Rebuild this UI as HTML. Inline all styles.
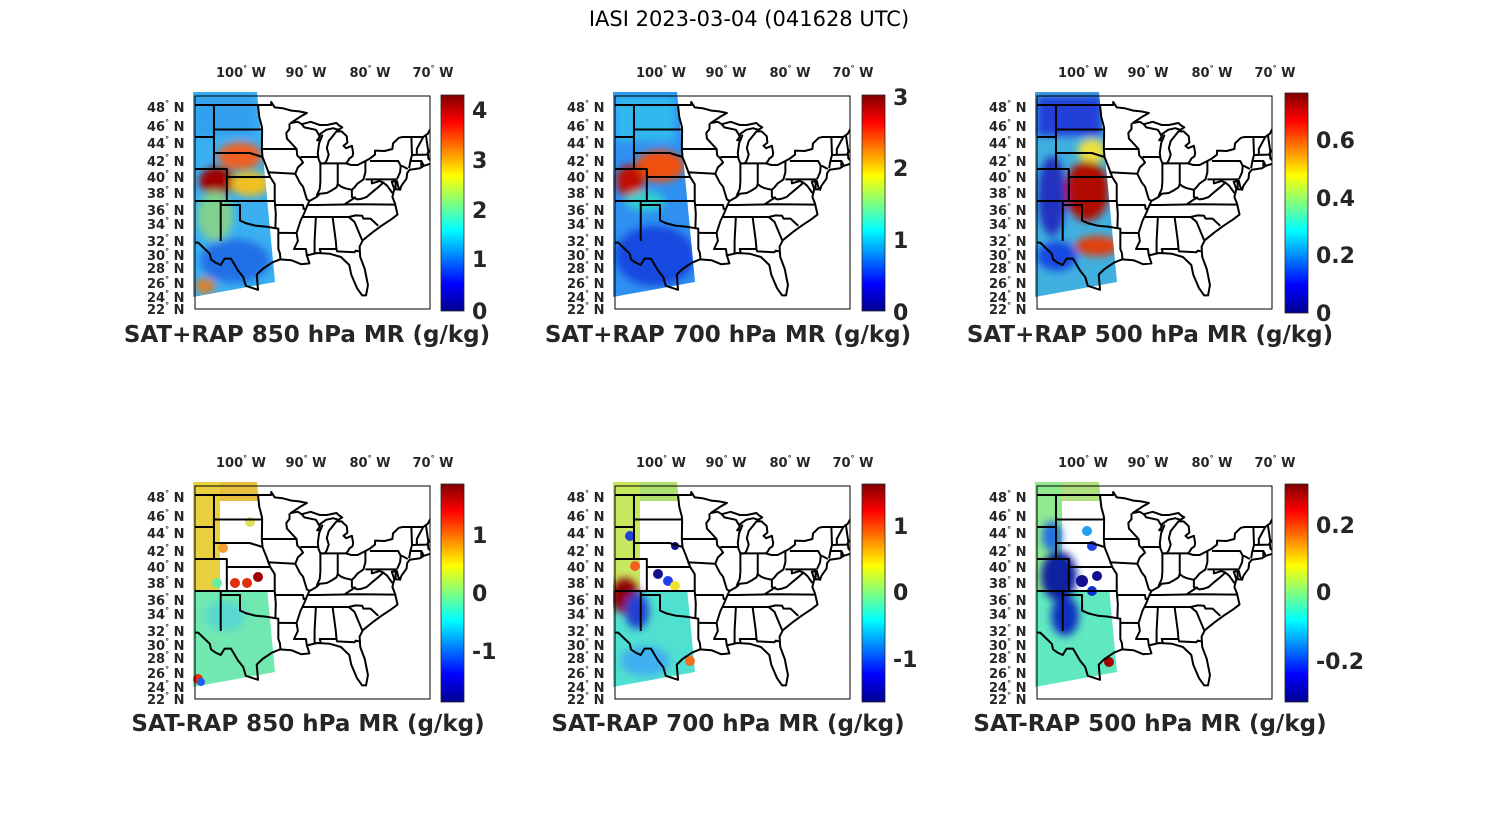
<!DOCTYPE html>
<html><head><meta charset="utf-8"><style>
html,body{margin:0;padding:0;background:#fff;}
svg{display:block;}
text{font-family:"DejaVu Sans","Liberation Sans",sans-serif;fill:#262626;}
.ll{font-size:13px;font-weight:bold;}
.cb{font-size:22px;font-weight:bold;}
.tt{font-size:23px;font-weight:bold;}
</style></head><body>
<svg width="1500" height="825" viewBox="0 0 1500 825" xmlns="http://www.w3.org/2000/svg">
<defs>
<linearGradient id="jet" x1="0" y1="1" x2="0" y2="0">
<stop offset="0" stop-color="#00008f"/><stop offset="0.125" stop-color="#0000ff"/>
<stop offset="0.375" stop-color="#00ffff"/><stop offset="0.625" stop-color="#ffff00"/>
<stop offset="0.875" stop-color="#ff0000"/><stop offset="1" stop-color="#800000"/>
</linearGradient>
<clipPath id="fc"><rect x="0" y="0" width="235" height="213"/></clipPath>
<clipPath id="sw"><polygon points="-2,-4 62,-4 80,186 -2,201"/></clipPath>
<filter id="bl" x="-20%" y="-20%" width="140%" height="140%"><feGaussianBlur stdDeviation="4"/></filter>
<g id="map" fill="none" stroke="#000" stroke-width="2" stroke-linejoin="round">
<g transform="matrix(6.43 0 0 -8 688 401)">
<polyline vector-effect="non-scaling-stroke" points="-108.2,31.8 -106.5,31.8 -104.7,30.4 -104.5,29.7 -103.8,29.3 -103,29 -102.4,29.8 -101.4,29.8 -100.3,28.3 -99.5,27.5 -99.1,26.4 -97.2,25.9 -97.4,27.8 -96.5,28.5 -95,29.3 -93.8,29.7 -92,29.6 -90.5,29.1 -89.2,29.2 -89.6,30.2 -88,30.5 -86,30.4 -84.3,30 -83,29 -82.7,27.8 -81.8,26.1 -81,25.2 -80.4,25.2 -80.1,26.5 -80.6,28.5 -81.3,30 -81.4,31.3 -80.9,32.1 -79.2,33.2 -78,33.9 -76.5,34.7 -75.5,35.3 -75.9,36.7 -76.3,37.5 -76,38.5 -76.4,39.4 -75.6,39.5 -75.4,38.8 -75.1,38.4 -74.9,38.9 -74.1,39.8 -74,40.5 -73.6,40.9 -72,41.1 -71.4,41.4 -70.6,41.6 -70,41.8 -70.7,42.3 -70.8,43 -70.2,43.6 -69,44 -67,44.8"/>
<polyline vector-effect="non-scaling-stroke" points="-108,49 -95.15,49 -95.15,49.38 -94.6,48.7 -93.4,48.6 -92,48.3 -90.8,48.2 -89.6,48 -90.5,47.6 -92.1,46.75 -91,46.9 -90.4,46.6 -89,46.9 -87.6,46.5 -86.5,46.5 -85,46.75 -84.6,46.45 -84.1,46.2 -84.7,45.9 -85.5,46.1 -86.6,45.9 -87.5,45.4 -87.7,44.9 -88,44.6 -87.5,44.6 -87.2,45.2 -87.7,44.2 -87.9,43 -87.8,42.3 -87.5,41.7 -86.8,41.7 -86.5,42.1 -86.2,42.8 -86.5,43.6 -86.2,44.5 -85.6,45.1 -85,45.7 -84.2,45.7 -83.4,45.1 -83.3,44.3 -83.9,43.9 -83.5,43.6 -82.6,43.9 -82.4,43 -82.5,42.6 -83,42.3 -83.2,42 -83.5,41.7 -82.7,41.5 -81.7,41.5 -80.5,42 -79.8,42.3 -79,42.8 -79,43.3 -77.5,43.25 -76.3,43.5 -76.2,44.2 -75.3,44.9 -74.7,45 -71.5,45 -71,45.3 -70.8,45.4 -70.2,46.3 -70,47 -69.2,47.45 -68.2,47.35"/>
<polyline vector-effect="non-scaling-stroke" points="-104.05,45.94 -96.56,45.94"/>
<polyline vector-effect="non-scaling-stroke" points="-104.05,43 -98.5,43 -96.5,42.5"/>
<polyline vector-effect="non-scaling-stroke" points="-104.05,49 -104.05,41"/>
<polyline vector-effect="non-scaling-stroke" points="-108,45 -104.05,45"/>
<polyline vector-effect="non-scaling-stroke" points="-108,41 -102.05,41 -102.05,37"/>
<polyline vector-effect="non-scaling-stroke" points="-102.05,40 -95.3,40"/>
<polyline vector-effect="non-scaling-stroke" points="-108,37 -94.6,37"/>
<polyline vector-effect="non-scaling-stroke" points="-103,37 -103,32"/>
<polyline vector-effect="non-scaling-stroke" points="-103,36.5 -100,36.5 -100,34.56 -99,34.2 -97.5,33.9 -96,33.8 -94.5,33.6 -94.04,33.55 -94.04,31 -93.8,30.5 -93.7,29.7"/>
<polyline vector-effect="non-scaling-stroke" points="-94.04,33.02 -91.2,33"/>
<polyline vector-effect="non-scaling-stroke" points="-94.6,37 -94.43,35.4 -94.5,33.6"/>
<polyline vector-effect="non-scaling-stroke" points="-94.6,37 -94.6,39.1 -95.3,40 -95.9,41.3 -96.5,42.5 -96.6,43.5 -96.56,45.94 -96.6,46.3 -97,47.5 -97.2,49"/>
<polyline vector-effect="non-scaling-stroke" points="-96.6,43.5 -91.2,43.5"/>
<polyline vector-effect="non-scaling-stroke" points="-95.75,40.6 -91.4,40.4"/>
<polyline vector-effect="non-scaling-stroke" points="-92.3,46.7 -92.3,46 -92.8,45.5 -92.7,44.8 -91.2,43.5 -91.1,42.7 -90.6,42.3 -90.2,41.8 -91,41.2 -91.4,40.4 -90.7,39.3 -90.2,38.8 -89.6,37.2 -89.2,37 -89.5,36.5 -90,35.5 -90.6,34.5 -91.2,33 -91,32 -91.6,31 -89.75,31 -89.6,30.2"/>
<polyline vector-effect="non-scaling-stroke" points="-94.6,36.5 -90.2,36.5 -90.1,36 -89.7,36"/>
<polyline vector-effect="non-scaling-stroke" points="-90.6,42.5 -87.8,42.5"/>
<polyline vector-effect="non-scaling-stroke" points="-90.4,46.6 -90,46.2 -88.2,45.9 -87.6,45.1"/>
<polyline vector-effect="non-scaling-stroke" points="-87.5,41.7 -87.5,39.4 -87.6,38.5 -88,37.8 -88.1,37.5"/>
<polyline vector-effect="non-scaling-stroke" points="-89.2,37 -88.1,37.5 -87.6,37.9 -86.5,38 -85.8,38.3 -85,38.7 -84.8,39.1 -84.3,38.8 -83.7,38.6 -82.6,38.4 -82.2,38.7 -81.7,39.2 -80.8,39.7 -80.5,40.6 -80.5,42"/>
<polyline vector-effect="non-scaling-stroke" points="-84.8,41.7 -84.8,39.1"/>
<polyline vector-effect="non-scaling-stroke" points="-87.5,41.7 -83.5,41.7"/>
<polyline vector-effect="non-scaling-stroke" points="-80.5,39.7 -75.8,39.7 -75.8,38.45 -75.1,38.45"/>
<polyline vector-effect="non-scaling-stroke" points="-79.5,39.7 -79.5,39.2 -78.3,39.5 -77.7,39.3 -78.4,38.8 -79,38.4 -79.6,38 -80.3,37.5 -81,37.3 -81.7,37.2 -82.6,37.5 -82.6,38.4"/>
<polyline vector-effect="non-scaling-stroke" points="-77.7,39.3 -77.1,38.9 -76.3,38"/>
<polyline vector-effect="non-scaling-stroke" points="-89.5,36.5 -88,36.5 -81.7,36.6 -75.9,36.55"/>
<polyline vector-effect="non-scaling-stroke" points="-83.7,36.6 -82,37.5"/>
<polyline vector-effect="non-scaling-stroke" points="-90.3,35 -84.3,35 -83.1,35 -82,35.2 -81,35.15 -80.8,34.8 -79.7,34.8 -78.5,33.9"/>
<polyline vector-effect="non-scaling-stroke" points="-88.2,35 -88.4,32 -88.4,30.4"/>
<polyline vector-effect="non-scaling-stroke" points="-85.6,35 -85.1,32 -85,31"/>
<polyline vector-effect="non-scaling-stroke" points="-87.4,30.4 -87.6,31 -85,31 -84.9,30.7 -82.2,30.6 -82,30.8 -81.5,30.7"/>
<polyline vector-effect="non-scaling-stroke" points="-83.1,35 -82.2,34.4 -81,32.1"/>
<polyline vector-effect="non-scaling-stroke" points="-79.8,42 -75.4,42 -75,41.4 -74.7,41.35 -73.9,41"/>
<polyline vector-effect="non-scaling-stroke" points="-75,41.4 -75.1,40.6 -75.6,39.7"/>
<polyline vector-effect="non-scaling-stroke" points="-73.35,45 -73.25,42.75 -73.5,42 -73.7,41.1"/>
<polyline vector-effect="non-scaling-stroke" points="-71.5,45 -72.5,43.5 -72.5,42.7"/>
<polyline vector-effect="non-scaling-stroke" points="-73.25,42.75 -71,42.8 -70.8,42.9"/>
<polyline vector-effect="non-scaling-stroke" points="-73.5,42 -71.8,42 -71.4,41.4"/>
<polyline vector-effect="non-scaling-stroke" points="-71.8,42 -71.8,41.3"/>
<polyline vector-effect="non-scaling-stroke" points="-71.1,45.3 -70.7,43.1"/>
</g></g>
<g id="lat" class="ll">
<text x="147" y="112">48<tspan dy="-6" font-size="8">°</tspan><tspan dy="6"> N</tspan></text>
<text x="147" y="131">46<tspan dy="-6" font-size="8">°</tspan><tspan dy="6"> N</tspan></text>
<text x="147" y="148">44<tspan dy="-6" font-size="8">°</tspan><tspan dy="6"> N</tspan></text>
<text x="147" y="166">42<tspan dy="-6" font-size="8">°</tspan><tspan dy="6"> N</tspan></text>
<text x="147" y="182">40<tspan dy="-6" font-size="8">°</tspan><tspan dy="6"> N</tspan></text>
<text x="147" y="198">38<tspan dy="-6" font-size="8">°</tspan><tspan dy="6"> N</tspan></text>
<text x="147" y="215">36<tspan dy="-6" font-size="8">°</tspan><tspan dy="6"> N</tspan></text>
<text x="147" y="229">34<tspan dy="-6" font-size="8">°</tspan><tspan dy="6"> N</tspan></text>
<text x="147" y="246">32<tspan dy="-6" font-size="8">°</tspan><tspan dy="6"> N</tspan></text>
<text x="147" y="260">30<tspan dy="-6" font-size="8">°</tspan><tspan dy="6"> N</tspan></text>
<text x="147" y="273">28<tspan dy="-6" font-size="8">°</tspan><tspan dy="6"> N</tspan></text>
<text x="147" y="288">26<tspan dy="-6" font-size="8">°</tspan><tspan dy="6"> N</tspan></text>
<text x="147" y="302">24<tspan dy="-6" font-size="8">°</tspan><tspan dy="6"> N</tspan></text>
<text x="147" y="314">22<tspan dy="-6" font-size="8">°</tspan><tspan dy="6"> N</tspan></text>
<text x="241" y="77" text-anchor="middle">100<tspan dy="-6" font-size="8">°</tspan><tspan dy="6"> W</tspan></text>
<text x="306" y="77" text-anchor="middle">90<tspan dy="-6" font-size="8">°</tspan><tspan dy="6"> W</tspan></text>
<text x="370" y="77" text-anchor="middle">80<tspan dy="-6" font-size="8">°</tspan><tspan dy="6"> W</tspan></text>
<text x="433" y="77" text-anchor="middle">70<tspan dy="-6" font-size="8">°</tspan><tspan dy="6"> W</tspan></text>
</g>
</defs>
<rect width="1500" height="825" fill="#fff"/>
<text x="749" y="26" text-anchor="middle" font-size="21" style="fill:#000">IASI 2023-03-04 (041628 UTC)</text>

<!-- Panel 1 -->
<use href="#lat"/>
<g transform="translate(195,96)">
<g clip-path="url(#sw)"><rect x="-5" y="-5" width="100" height="210" fill="#3ab0f0"/>
<g filter="url(#bl)">
<rect x="0" y="0" width="60" height="40" fill="#30a0ee"/>
<ellipse cx="45" cy="60" rx="22" ry="14" fill="#f06020"/>
<ellipse cx="22" cy="85" rx="18" ry="14" fill="#a00000"/>
<ellipse cx="55" cy="88" rx="20" ry="12" fill="#f0c020"/>
<ellipse cx="20" cy="120" rx="18" ry="25" fill="#80d090"/>
<ellipse cx="40" cy="165" rx="35" ry="22" fill="#2070e8"/>
<ellipse cx="10" cy="190" rx="10" ry="8" fill="#e08020"/>
</g></g>
<use href="#map" clip-path="url(#fc)"/>
<rect x="0" y="0" width="235" height="213" fill="none" stroke="#000" stroke-width="1"/>
</g>
<rect x="441" y="95" width="23" height="216" fill="url(#jet)" stroke="#262626" stroke-width="0.8"/>
<g class="cb"><text x="472" y="118">4</text><text x="472" y="168">3</text><text x="472" y="218">2</text><text x="472" y="267">1</text><text x="472" y="319">0</text></g>
<text class="tt" x="307" y="342" text-anchor="middle">SAT+RAP 850 hPa MR (g/kg)</text>

<!-- Panel 2 -->
<use href="#lat" transform="translate(420,0)"/>
<g transform="translate(615,96)">
<g clip-path="url(#sw)"><rect x="-5" y="-5" width="100" height="210" fill="#2f90f0"/>
<g filter="url(#bl)">
<rect x="0" y="0" width="60" height="45" fill="#30b8f0"/>
<ellipse cx="45" cy="70" rx="24" ry="16" fill="#f05010"/>
<ellipse cx="15" cy="85" rx="14" ry="16" fill="#c01000"/>
<ellipse cx="30" cy="105" rx="20" ry="10" fill="#30d0d0"/>
<ellipse cx="40" cy="160" rx="40" ry="30" fill="#1848e0"/>
</g></g>
<use href="#map" clip-path="url(#fc)"/>
<rect x="0" y="0" width="235" height="213" fill="none" stroke="#000" stroke-width="1"/>
</g>
<rect x="862" y="95" width="23" height="216" fill="url(#jet)" stroke="#262626" stroke-width="0.8"/>
<g class="cb"><text x="893" y="105">3</text><text x="893" y="176">2</text><text x="893" y="248">1</text><text x="893" y="320">0</text></g>
<text class="tt" x="728" y="342" text-anchor="middle">SAT+RAP 700 hPa MR (g/kg)</text>

<!-- Panel 3 -->
<use href="#lat" transform="translate(842,0)"/>
<g transform="translate(1037,96)">
<g clip-path="url(#sw)"><rect x="-5" y="-5" width="100" height="210" fill="#40b0e0"/>
<g filter="url(#bl)">
<rect x="0" y="0" width="65" height="40" fill="#2040d8"/>
<ellipse cx="55" cy="55" rx="14" ry="12" fill="#f0e040"/>
<ellipse cx="50" cy="95" rx="22" ry="30" fill="#b01000"/>
<ellipse cx="15" cy="100" rx="14" ry="40" fill="#2030c0"/>
<ellipse cx="60" cy="150" rx="22" ry="10" fill="#e04010"/>
<ellipse cx="20" cy="160" rx="20" ry="15" fill="#1848e0"/>
</g></g>
<use href="#map" clip-path="url(#fc)"/>
<rect x="0" y="0" width="235" height="213" fill="none" stroke="#000" stroke-width="1"/>
</g>
<rect x="1285" y="93" width="23" height="220" fill="url(#jet)" stroke="#262626" stroke-width="0.8"/>
<g class="cb"><text x="1316" y="148">0.6</text><text x="1316" y="206">0.4</text><text x="1316" y="263">0.2</text><text x="1316" y="321">0</text></g>
<text class="tt" x="1150" y="342" text-anchor="middle">SAT+RAP 500 hPa MR (g/kg)</text>

<!-- Panel 4 -->
<use href="#lat" transform="translate(0,390)"/>
<g transform="translate(195,486)">
<g clip-path="url(#sw)">
<rect x="-5" y="-5" width="30" height="110" fill="#e8d040"/>
<rect x="25" y="-5" width="40" height="20" fill="#e8c040"/>
<rect x="-5" y="105" width="100" height="110" fill="#70e8b0"/>
<g filter="url(#bl)"><ellipse cx="30" cy="130" rx="20" ry="15" fill="#58d8d0"/></g>
<circle cx="55" cy="36" r="5" fill="#e0e060"/><circle cx="28" cy="62" r="5" fill="#f0a030"/>
<circle cx="40" cy="97" r="5" fill="#e03010"/><circle cx="52" cy="97" r="5" fill="#e03010"/>
<circle cx="63" cy="91" r="5" fill="#a00000"/><circle cx="22" cy="97" r="5" fill="#60f0a0"/>
</g>
<circle cx="3" cy="193" r="5" fill="#e03010"/><circle cx="6" cy="196" r="4" fill="#2060f0"/>
<use href="#map" clip-path="url(#fc)"/>
<rect x="0" y="0" width="235" height="213" fill="none" stroke="#000" stroke-width="1"/>
</g>
<rect x="441" y="484" width="23" height="218" fill="url(#jet)" stroke="#262626" stroke-width="0.8"/>
<g class="cb"><text x="472" y="543">1</text><text x="472" y="601">0</text><text x="472" y="659">-1</text></g>
<text class="tt" x="308" y="731" text-anchor="middle">SAT-RAP 850 hPa MR (g/kg)</text>

<!-- Panel 5 -->
<use href="#lat" transform="translate(420,390)"/>
<g transform="translate(615,486)">
<g clip-path="url(#sw)">
<rect x="-5" y="-5" width="30" height="110" fill="#c8e860"/>
<rect x="25" y="-5" width="40" height="20" fill="#b0e070"/>
<rect x="-5" y="105" width="100" height="110" fill="#50e0d0"/>
<g filter="url(#bl)"><ellipse cx="10" cy="110" rx="14" ry="18" fill="#900000"/>
<ellipse cx="22" cy="125" rx="12" ry="18" fill="#2040d0"/>
<ellipse cx="30" cy="175" rx="25" ry="15" fill="#40b0f0"/></g>
<circle cx="15" cy="50" r="5" fill="#2040e0"/><circle cx="60" cy="60" r="4" fill="#10108f"/>
<circle cx="43" cy="88" r="5" fill="#10108f"/><circle cx="53" cy="95" r="5" fill="#2040f0"/>
<circle cx="60" cy="100" r="5" fill="#f0e030"/><circle cx="20" cy="80" r="5" fill="#f06020"/>
</g>
<circle cx="75" cy="175" r="5" fill="#f07020"/>
<use href="#map" clip-path="url(#fc)"/>
<rect x="0" y="0" width="235" height="213" fill="none" stroke="#000" stroke-width="1"/>
</g>
<rect x="862" y="484" width="23" height="218" fill="url(#jet)" stroke="#262626" stroke-width="0.8"/>
<g class="cb"><text x="893" y="534">1</text><text x="893" y="600">0</text><text x="893" y="667">-1</text></g>
<text class="tt" x="728" y="731" text-anchor="middle">SAT-RAP 700 hPa MR (g/kg)</text>

<!-- Panel 6 -->
<use href="#lat" transform="translate(842,390)"/>
<g transform="translate(1037,486)">
<g clip-path="url(#sw)">
<rect x="-5" y="-5" width="30" height="110" fill="#90e890"/>
<rect x="25" y="-5" width="40" height="20" fill="#b0e080"/>
<rect x="-5" y="105" width="100" height="110" fill="#60e8c0"/>
<g filter="url(#bl)"><ellipse cx="22" cy="90" rx="18" ry="25" fill="#10209f"/>
<ellipse cx="28" cy="130" rx="14" ry="20" fill="#1030c0"/>
<ellipse cx="15" cy="50" rx="10" ry="15" fill="#2070e0"/></g>
<circle cx="50" cy="45" r="5" fill="#20a0f0"/><circle cx="55" cy="60" r="5" fill="#2040e0"/>
<circle cx="45" cy="95" r="6" fill="#10108f"/><circle cx="60" cy="90" r="5" fill="#10108f"/>
<circle cx="55" cy="105" r="5" fill="#1030d0"/>
</g>
<circle cx="72" cy="176" r="5" fill="#a00000"/>
<use href="#map" clip-path="url(#fc)"/>
<rect x="0" y="0" width="235" height="213" fill="none" stroke="#000" stroke-width="1"/>
</g>
<rect x="1285" y="484" width="23" height="218" fill="url(#jet)" stroke="#262626" stroke-width="0.8"/>
<g class="cb"><text x="1316" y="533">0.2</text><text x="1316" y="600">0</text><text x="1316" y="669">-0.2</text></g>
<text class="tt" x="1150" y="731" text-anchor="middle">SAT-RAP 500 hPa MR (g/kg)</text>
</svg>
</body></html>
